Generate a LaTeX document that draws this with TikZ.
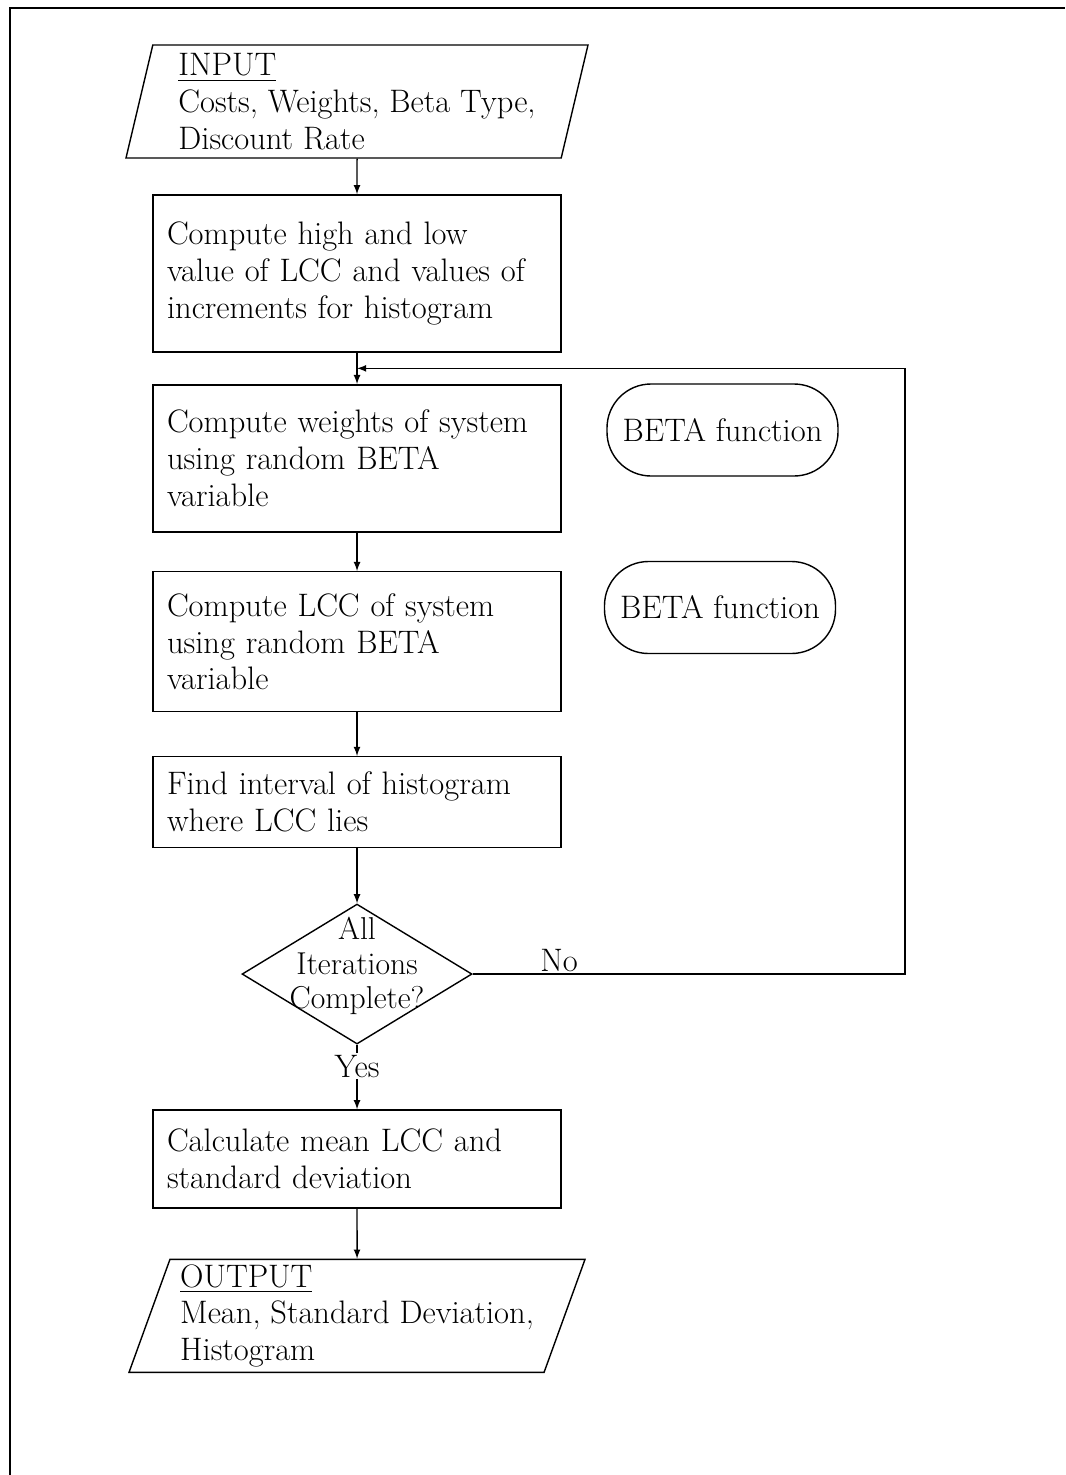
\documentclass[tikz,border=0pt]{standalone}
\usepackage{amsmath}
\usetikzlibrary{calc}
\usetikzlibrary{shapes.geometric}
\usetikzlibrary{positioning}

\begin{document}
\begin{tikzpicture}[thick, >=latex, arrows=->,
    font=\fontsize{18.5}{21}\selectfont,
    box/.style={rectangle, draw, align=left, text width=7.6cm, inner xsep=0.28cm, minimum width=8.16cm},
    io/.style={trapezium, draw, align=left, trapezium stretches body, inner sep=1pt},
    fn/.style={rectangle, draw, rounded corners=8.8mm, minimum width=4.62cm, minimum height=1.84cm},
    test/.style={diamond, draw, minimum width=4.6cm, minimum height=2.8cm, inner sep=0pt},
  ]
\useasboundingbox (0,0) rectangle (21.3,-29.5);
\draw[-] (0.2,-29.5) -- (0.2,-0.16) -- (21.3,-0.16);

% main column
\node(inp)[io, trapezium left angle=75, trapezium right angle=105,
  minimum width=9.24cm, minimum height=2.26cm] at (7.14,-2.03)
  {\underline{INPUT}\\Costs, Weights, Beta Type,\\Discount Rate};
\node(b1)[box, minimum height=3.14cm, below=0.71cm of inp]
  {Compute high and low\\value of LCC and values of\\increments for histogram};
\node(b2)[box, minimum height=2.94cm, below=0.63cm of b1]
  {Compute weights of system\\using random BETA\\variable};
\node(b3)[box, minimum height=2.8cm, below=0.77cm of b2]
  {Compute LCC of system\\using random BETA\\variable};
\node(b4)[box, minimum height=1.82cm, below=0.87cm of b3]
  {Find interval of histogram\\where LCC lies};
\node(done)[test, below=1.1cm of b4]{};
\node(donetxt)[align=center, font=\fontsize{18}{19.5}\selectfont]
  at ([yshift=1.6mm]done.center) {All\\Iterations\\Complete?};
\node(b5)[box, minimum height=1.96cm, below=1.29cm of done]
  {Calculate mean LCC and\\standard deviation};
\node(out)[io, trapezium left angle=69, trapezium right angle=111,
  minimum width=9.12cm, minimum height=2.26cm, below=1.0cm of b5]
  {\underline{OUTPUT}\\Mean, Standard Deviation,\\Histogram};

% functions
\node(beta1)[fn] at (14.45,-8.6) {BETA function};
\node(beta2)[fn] at (14.4,-12.15) {BETA function};

\coordinate (join) at ($(b1.south)!0.5!(b2.north)$);
\coordinate (rt) at (18.1,0);

\draw (inp) -- (b1); \draw (b1) -- (b2); \draw (b2) -- (b3);
\draw (b3) -- (b4); \draw (b4) -- (done);
\draw (done) -- node[pos=0.33, fill=white, inner sep=1pt, arrows=-]{Yes} (b5);
\draw (b5) -- (out);
\draw (done.east) -- node[pos=0.2, above, inner sep=1pt]{No} (done.east -| rt)
  -- (rt |- join) -- (join);
\end{tikzpicture}
\end{document}
